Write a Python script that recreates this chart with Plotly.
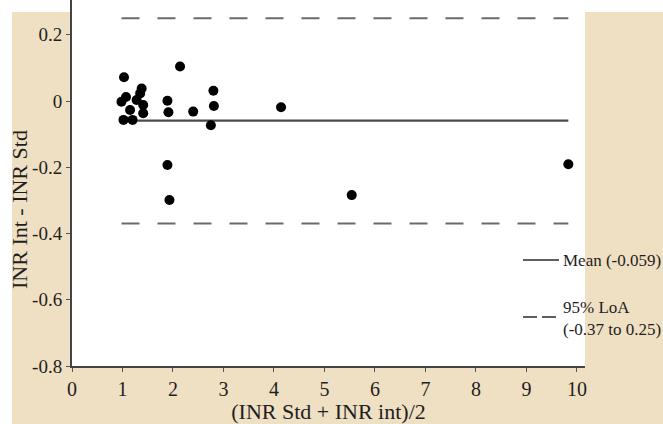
import plotly.graph_objects as go

# Bland-Altman data: mean of the two INR measurements vs. their difference
avg_inr = [1.03, 1.38, 1.35, 1.07, 0.98, 1.28, 1.41, 1.15, 1.41, 1.02, 1.20,
           1.89, 1.91, 2.14, 2.40, 2.80, 2.81, 2.75, 1.89, 1.93, 4.14, 5.54, 9.83]
diff_inr = [0.072, 0.038, 0.023, 0.012, -0.002, 0.003, -0.012, -0.027, -0.037, -0.057, -0.057,
            0.001, -0.034, 0.104, -0.032, 0.031, -0.015, -0.073, -0.193, -0.299, -0.019, -0.284, -0.191]

mean_diff = -0.059
loa_low = -0.37
loa_high = 0.25

x_ticks = [0, 1, 2, 3, 4, 5, 6, 7, 8, 9, 10]
x_tick_text = ["0", "1", "2", "3", "4", "5", "6", "7", "8", "9", "10"]
y_ticks = [0.2, 0, -0.2, -0.4, -0.6, -0.8]
y_tick_text = ["0.2", "0", "-0.2", "-0.4", "-0.6", "-0.8"]

legend_mean = "Mean (-0.059)"
legend_loa = "95% LoA<br>(-0.37 to 0.25)"
x_title = "(INR Std + INR int)/2"
y_title = "INR Int - INR Std"

FONT = "Liberation Serif"
INK = "#1e1e1e"
TAN = "#efdfc3"
W, H = 663, 424
ML, MR, MT, MB = 72, 78, 0, 58
PW, PH = W - ML - MR, H - MT - MB

x_span = [min(avg_inr), max(avg_inr)]

fig = go.Figure()

# limits of agreement
for lim in (loa_high, loa_low):
    fig.add_trace(go.Scatter(
        x=x_span, y=[lim, lim], mode="lines",
        line=dict(color="#6a6a6a", width=2, dash="18px,18px"),
        showlegend=False, hoverinfo="skip"))

# mean difference
fig.add_trace(go.Scatter(
    x=x_span, y=[mean_diff, mean_diff], mode="lines",
    line=dict(color="#4a4a4a", width=2.2),
    showlegend=False, hoverinfo="skip"))

# individual samples
fig.add_trace(go.Scatter(
    x=avg_inr, y=diff_inr, mode="markers",
    marker=dict(color="black", size=10, line=dict(width=0)),
    showlegend=False))


def px_x(p):
    return (p - ML) / PW


def px_y(p):
    return (H - MB - p) / PH


shapes = [
    # tan frame behind the axes
    dict(type="rect", xref="paper", yref="paper", layer="below",
         x0=px_x(12), x1=px_x(W + 5), y0=px_y(H + 5), y1=px_y(12),
         fillcolor=TAN, line=dict(width=0)),
    # white plotting area
    dict(type="rect", xref="paper", yref="paper", layer="below",
         x0=0, x1=1, y0=0, y1=1, fillcolor="white", line=dict(width=0)),
    # key samples
    dict(type="line", xref="paper", yref="paper",
         x0=px_x(523), x1=px_x(559), y0=px_y(260), y1=px_y(260),
         line=dict(color="#2a2a2a", width=1.6)),
    dict(type="line", xref="paper", yref="paper",
         x0=px_x(523), x1=px_x(559), y0=px_y(317), y1=px_y(317),
         line=dict(color="#2a2a2a", width=1.6, dash="14px,5px")),
]

annotations = [
    dict(text=legend_mean, xref="paper", yref="paper", x=px_x(561), y=px_y(260),
         xanchor="left", yanchor="middle", showarrow=False, align="left",
         font=dict(family=FONT, size=17, color=INK)),
    dict(text=legend_loa, xref="paper", yref="paper", x=px_x(561), y=px_y(318),
         xanchor="left", yanchor="middle", showarrow=False, align="left",
         font=dict(family=FONT, size=17, color=INK)),
    # y-axis title
    dict(text=y_title, xref="paper", yref="paper", x=px_x(19), y=px_y(210),
         xanchor="center", yanchor="middle", showarrow=False, textangle=-90,
         font=dict(family=FONT, size=22, color=INK)),
]

fig.update_layout(
    width=W, height=H,
    margin=dict(l=ML, r=MR, t=MT, b=MB),
    paper_bgcolor="white",
    plot_bgcolor="rgba(0,0,0,0)",
    shapes=shapes,
    annotations=annotations,
    font=dict(family=FONT, color=INK),
    xaxis=dict(
        range=[0, 10.16], tickvals=x_ticks, ticktext=x_tick_text,
        showgrid=False, zeroline=False, showline=True, linecolor="#444", linewidth=2,
        ticks="outside", ticklen=4, tickcolor="#555", tickwidth=1,
        tickfont=dict(family=FONT, size=20, color=INK),
        title=dict(text=x_title, standoff=2,
                   font=dict(family=FONT, size=22, color=INK)),
    ),
    yaxis=dict(
        range=[-0.8, 0.305], tickvals=y_ticks, ticktext=y_tick_text,
        showgrid=False, zeroline=False, showline=True, linecolor="#444", linewidth=2,
        ticks="outside", ticklen=4, tickcolor="#555", tickwidth=1,
        tickfont=dict(family=FONT, size=19, color=INK),
    ),
)

fig.write_html("out.html")
